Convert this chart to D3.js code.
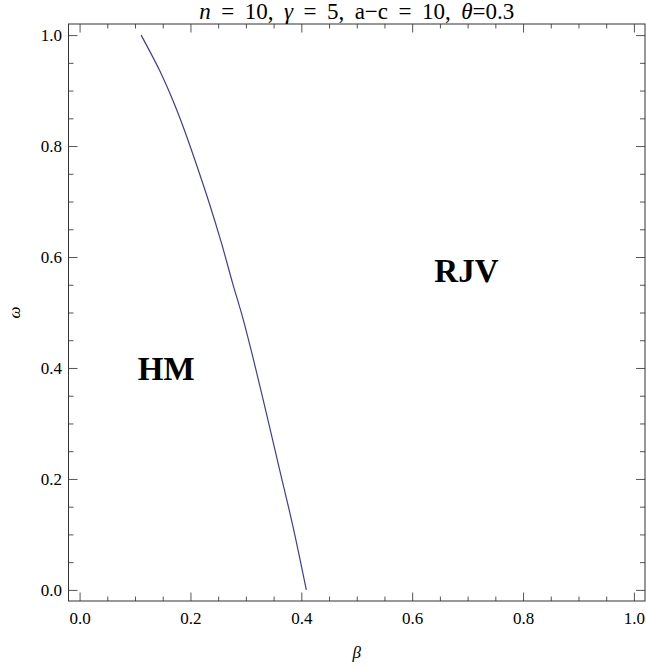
<!DOCTYPE html>
<html>
<head>
<meta charset="utf-8">
<script src="https://cdn.jsdelivr.net/npm/d3@7"></script>
<style>
  body { margin: 0; background: #fff; }
  svg { display: block; }
  text { font-family: "Liberation Serif", "Times New Roman", serif; }
</style>
</head>
<body>
<div id="chart"></div>
<script>
(() => {
"use strict";

const WIDTH = 646, HEIGHT = 668;
const margin = { top: 24, right: 1, bottom: 67, left: 68.5 };

// boundary curve
const omega = [1.0, 0.937, 0.883, 0.829, 0.769, 0.697, 0.625, 0.553, 0.490, 0.420, 0.318, 0.216, 0.114, 0.0];
const beta  = [0.111, 0.144, 0.168, 0.189, 0.210, 0.234, 0.256, 0.276, 0.2945, 0.3125, 0.337, 0.361, 0.385, 0.409];

const majorTicks = [0, 0.2, 0.4, 0.6, 0.8, 1.0];
const minorTicks = d3.range(0, 1.0001, 0.05).filter(v => Math.abs(v * 5 - Math.round(v * 5)) > 1e-6);

const regions = [
  { name: "HM",  beta: 0.105, omega: 0.378 },
  { name: "RJV", beta: 0.640, omega: 0.555 }
];

let svg = d3.select("#chart").append("svg")
  .attr("width", WIDTH)
  .attr("height", HEIGHT);

let x = d3.scaleLinear()
  .domain([-0.02, 1.02])
  .range([margin.left, WIDTH - margin.right]);
let y = d3.scaleLinear()
  .domain([-0.02, 1.02])
  .range([HEIGHT - margin.bottom, margin.top]);

let fmt = d3.format(".1f");

let drawAxis = function(axis, transform, labels) {
  let g = svg.append("g")
    .attr("transform", transform)
    .call(axis);
  g.select(".domain").remove();
  g.selectAll(".tick line").attr("stroke", "#555");
  g.selectAll("text")
    .attr("fill", "#000")
    .style("font-size", "17px")
    .style("font-family", "'Liberation Serif', serif");
  if (!labels) g.selectAll("text").remove();
  return g;
};

// major ticks with labels (bottom, left), inward ticks on all four sides
drawAxis(d3.axisBottom(x).tickValues(majorTicks).tickFormat(fmt).tickSize(-8.5).tickPadding(11),
  `translate(0,${HEIGHT - margin.bottom})`, true);
drawAxis(d3.axisLeft(y).tickValues(majorTicks).tickFormat(fmt).tickSize(-9).tickPadding(6.5),
  `translate(${margin.left},0)`, true);
drawAxis(d3.axisTop(x).tickValues(majorTicks).tickSize(-8.5),
  `translate(0,${margin.top})`, false);
drawAxis(d3.axisRight(y).tickValues(majorTicks).tickSize(-9),
  `translate(${WIDTH - margin.right},0)`, false);

// minor ticks
drawAxis(d3.axisBottom(x).tickValues(minorTicks).tickSize(-4.5),
  `translate(0,${HEIGHT - margin.bottom})`, false);
drawAxis(d3.axisLeft(y).tickValues(minorTicks).tickSize(-5),
  `translate(${margin.left},0)`, false);
drawAxis(d3.axisTop(x).tickValues(minorTicks).tickSize(-4.5),
  `translate(0,${margin.top})`, false);
drawAxis(d3.axisRight(y).tickValues(minorTicks).tickSize(-5),
  `translate(${WIDTH - margin.right},0)`, false);

// frame
svg.append("rect")
  .attr("x", margin.left)
  .attr("y", margin.top)
  .attr("width", WIDTH - margin.right - margin.left)
  .attr("height", HEIGHT - margin.bottom - margin.top)
  .attr("fill", "none")
  .attr("stroke", "#333")
  .attr("stroke-width", 1);

// boundary curve
let points = d3.zip(beta, omega);
svg.append("path")
  .datum(points)
  .attr("fill", "none")
  .attr("stroke", "#3d3d99")
  .attr("stroke-width", 1.2)
  .attr("d", d3.line()
    .x(d => x(d[0]))
    .y(d => y(d[1]))
    .curve(d3.curveCatmullRom));

// region labels
svg.selectAll(".region")
  .data(regions)
  .enter().append("text")
  .attr("class", "region")
  .attr("x", d => x(d.beta))
  .attr("y", d => y(d.omega))
  .style("font-size", "33px")
  .style("font-weight", "bold")
  .text(d => d.name);

// axis labels
svg.append("text")
  .attr("x", (margin.left + WIDTH - margin.right) / 2)
  .attr("y", 658)
  .attr("text-anchor", "middle")
  .style("font-size", "17px")
  .style("font-style", "italic")
  .text("β");

svg.append("text")
  .attr("transform", `translate(20,${(margin.top + HEIGHT - margin.bottom) / 2}) rotate(-90)`)
  .attr("text-anchor", "middle")
  .style("font-size", "17px")
  .style("font-style", "italic")
  .text("ω");

// title; Mathematica spaces it a bit wider, so widen only the word gaps
const TITLE_WIDTH = 315;
let title = svg.append("text")
  .attr("x", (margin.left + WIDTH - margin.right) / 2)
  .attr("y", 19)
  .attr("text-anchor", "middle")
  .style("font-size", "23px");
const titleParts = [
  ["n", true], [" = 10, ", false], ["γ", true], [" = 5, a\u2212c = 10, ", false], ["θ", true], ["=0.3", false]
];
titleParts.forEach(p => {
  title.append("tspan")
    .style("font-style", p[1] ? "italic" : "normal")
    .style("white-space", "pre")
    .text(p[0]);
});
let nSpaces = titleParts.map(p => p[0]).join("").split(" ").length - 1;
let natural = title.node().getComputedTextLength();
let extra = Math.max(0, (TITLE_WIDTH - natural) / nSpaces);
title.style("word-spacing", extra + "px");
})();
</script>
</body>
</html>
